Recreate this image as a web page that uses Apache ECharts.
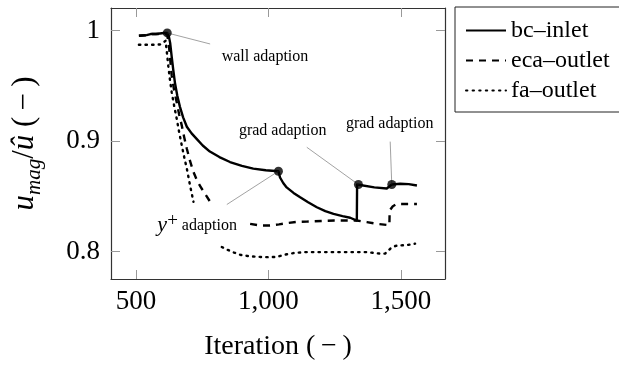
<!DOCTYPE html>
<html><head><meta charset="utf-8">
<script src="https://cdn.jsdelivr.net/npm/echarts@6/dist/echarts.min.js"></script>
<style>html,body{margin:0;padding:0;background:#fff}#c{width:619px;height:367px}</style>
</head><body><div id="c"></div>
<script>
// ---- data ----
const seriesNames = ['bc–inlet', 'eca–outlet', 'fa–outlet'];

const bcIter = [511,540,555,575,590,605,618,624,629,635,641,647,656,666,678,692,710,729,752,779,815,855,900,943,990,1038,1044,1056,1069,1095,1120,1150,1183,1215,1246,1280,1309,1334,1335,1340,1400,1447,1466,1498,1530,1561];
const bcVal  = [0.9955,0.996,0.997,0.997,0.9975,0.998,0.998,0.995,0.989,0.976,0.964,0.953,0.941,0.931,0.9215,0.913,0.907,0.902,0.896,0.8905,0.8855,0.881,0.8775,0.875,0.8735,0.8727,0.867,0.862,0.858,0.853,0.849,0.8445,0.840,0.8365,0.834,0.832,0.8305,0.828,0.8606,0.8606,0.858,0.857,0.8606,0.8613,0.861,0.8597];

const ecaIter = [511,540,560,590,610,618,625,635,644,654,663,673,682,692,704,717,732,748,764,780,850,931,969,1006,1040,1069,1110,1145,1200,1250,1309,1334,1372,1410,1447,1457,1458,1470,1485,1561];
const ecaVal  = [0.9955,0.996,0.997,0.997,0.997,0.9965,0.985,0.959,0.946,0.935,0.924,0.914,0.9035,0.893,0.882,0.872,0.8635,0.857,0.851,0.845,null,0.825,0.8235,0.8235,0.8245,0.8256,0.8268,0.827,0.8275,0.828,0.828,0.828,0.8266,0.825,0.824,0.8237,0.837,0.841,0.843,0.843];

const faIter = [511,530,560,590,603,612,617,622,628,635,644,654,663,673,682,692,704,717,780,824,845,870,893,930,970,1000,1032,1060,1095,1140,1183,1250,1320,1372,1422,1441,1460,1480,1498,1530,1554];
const faVal  = [0.9873,0.9873,0.9873,0.9875,0.989,0.991,0.99,0.968,0.956,0.944,0.932,0.920,0.908,0.896,0.8855,0.875,0.860,0.845,null,0.804,0.8015,0.799,0.797,0.7955,0.795,0.7948,0.795,0.797,0.7985,0.7994,0.7994,0.7994,0.7994,0.7994,0.798,0.798,0.8024,0.805,0.8054,0.806,0.807];

const adaptIter = [618, 1038, 1340, 1466];
const adaptVal  = [0.998, 0.8727, 0.8606, 0.8606];

const xTicks = [500, 1000, 1500];
const yTicks = [0.8, 0.9, 1];

// annotation: label text, label anchor (data coords), leader line end (data coords), point index
const noteText  = ['wall adaption', '{yi|y}{sup|+}{t| adaption}', 'grad adaption', 'grad adaption'];
const noteAt    = [[987, 0.9765], [731, 0.8235], [1054, 0.9095], [1458, 0.9158]];
const noteLineTo = [[780, 0.988], [843, 0.8425], [1145, 0.8944], [1460, 0.8995]];
const notePoint = [0, 1, 2, 3];

// ---- build ----
const zip = (xs, ys) => xs.map((x, i) => [x, ys[i] === null ? '-' : ys[i]]);
const serif = 'Liberation Serif';

const dashes = ['solid', [7, 6], [1.4, 5.2]];
const lineSeries = [zip(bcIter, bcVal), zip(ecaIter, ecaVal), zip(faIter, faVal)].map((d, i) => ({
  name: seriesNames[i], type: 'line', data: d, symbol: 'none', showSymbol: false,
  connectNulls: false, z: 3,
  lineStyle: { color: '#000', width: 2.4, type: dashes[i], cap: i === 2 ? 'round' : 'butt', join: 'round' },
  itemStyle: { color: '#000' }
}));

const chart = echarts.init(document.getElementById('c'), null, { renderer: 'canvas' });
const axisLineStyle = { color: '#333', width: 1.2 };
const tickStyle = { color: '#999', width: 1 };

chart.setOption({
  animation: false,
  backgroundColor: '#fff',
  grid: { left: 111, right: 174, top: 8, bottom: 88, containLabel: false },
  legend: {
    data: seriesNames, orient: 'vertical', left: 455, top: 7,
    padding: [11, 10, 9, 10], itemGap: 5, itemWidth: 40, itemHeight: 25,
    borderColor: '#222', borderWidth: 1, borderRadius: 0,
    itemStyle: { color: 'rgba(0,0,0,0)', borderColor: 'rgba(0,0,0,0)', borderWidth: 0 },
    textStyle: { fontFamily: serif, fontSize: 24, color: '#000', lineHeight: 25 },
    selectedMode: false
  },
  xAxis: [{
    type: 'value', min: 405.6, max: 1667, position: 'bottom',
    name: 'Iteration (\u2009−\u2009)', nameLocation: 'middle', nameGap: 54,
    nameTextStyle: { fontFamily: serif, fontSize: 28, color: '#000' },
    axisLine: { show: true, lineStyle: axisLineStyle },
    axisTick: { show: true, inside: true, length: 9, lineStyle: tickStyle, customValues: xTicks },
    axisLabel: { show: true, customValues: xTicks, margin: 9, fontFamily: serif, fontSize: 27, color: '#000',
      formatter: v => v.toLocaleString('en-US') },
    splitLine: { show: false }
  }, {
    type: 'value', min: 405.6, max: 1667, position: 'top',
    axisLine: { show: true, lineStyle: axisLineStyle },
    axisTick: { show: true, inside: true, length: 9, lineStyle: tickStyle, customValues: xTicks },
    axisLabel: { show: false }, splitLine: { show: false }
  }],
  yAxis: [{
    type: 'value', min: 0.775, max: 1.0206, position: 'left',
    name: '{i|u}{s|mag}{n|/}{i|û}{n| (\u2009−\u2009)}', nameLocation: 'middle', nameGap: 66, nameRotate: 90,
    nameTextStyle: {
      color: '#000',
      rich: {
        i: { fontFamily: serif, fontStyle: 'italic', fontSize: 31, lineHeight: 40, color: '#000' },
        s: { fontFamily: serif, fontStyle: 'italic', fontSize: 21, lineHeight: 21, verticalAlign: 'bottom', color: '#000' },
        n: { fontFamily: serif, fontSize: 31, lineHeight: 40, color: '#000' }
      }
    },
    axisLine: { show: true, lineStyle: axisLineStyle },
    axisTick: { show: true, inside: true, length: 9, lineStyle: tickStyle, customValues: yTicks },
    axisLabel: { show: true, customValues: yTicks, margin: 11, fontFamily: serif, fontSize: 27, color: '#000',
      formatter: v => String(+v.toFixed(2)) },
    splitLine: { show: false }
  }, {
    type: 'value', min: 0.775, max: 1.0206, position: 'right',
    axisLine: { show: true, lineStyle: axisLineStyle },
    axisTick: { show: true, inside: true, length: 9, lineStyle: tickStyle, customValues: yTicks },
    axisLabel: { show: false }, splitLine: { show: false }
  }],
  series: lineSeries.concat([{
    name: 'adaption', type: 'scatter', z: 5,
    data: adaptIter.map((x, i) => [x, adaptVal[i]]),
    symbol: 'circle', symbolSize: 9, itemStyle: { color: '#000' }, silent: true,
    markLine: {
      silent: true, symbol: ['none', 'none'], animation: false,
      lineStyle: { color: '#8a8a8a', width: 0.8, type: 'solid' },
      label: { show: false },
      data: notePoint.map((p, k) => [{ coord: [adaptIter[p], adaptVal[p]] }, { coord: noteLineTo[k] }])
    },
    markPoint: {
      silent: true, symbol: 'circle', symbolSize: 1, itemStyle: { color: 'rgba(0,0,0,0)' },
      label: {
        show: true, position: 'inside', formatter: p => p.name,
        fontFamily: serif, fontSize: 16, color: '#000',
        rich: {
          yi: { fontFamily: serif, fontStyle: 'italic', fontSize: 22, lineHeight: 28, color: '#000' },
          sup: { fontFamily: serif, fontSize: 19, lineHeight: 12, verticalAlign: 'top', color: '#000' },
          t: { fontFamily: serif, fontSize: 16, lineHeight: 28, color: '#000' }
        }
      },
      data: noteText.map((t, k) => ({ name: t, coord: noteAt[k] }))
    }
  }])
});
</script>
</body></html>
